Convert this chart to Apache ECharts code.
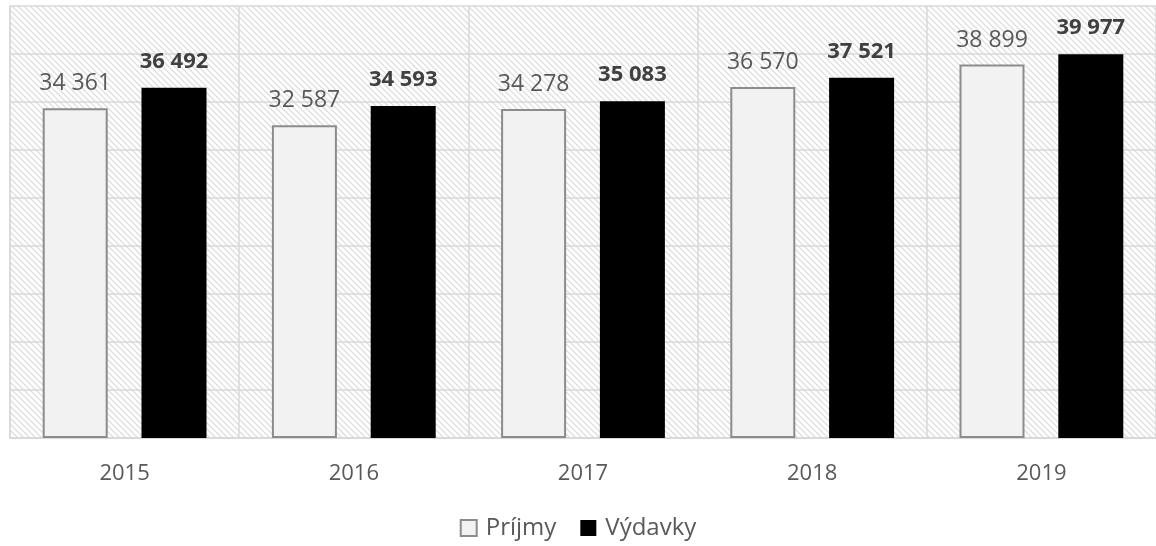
<!DOCTYPE html>
<html>
<head>
<meta charset="utf-8">
<script src="https://cdn.jsdelivr.net/npm/echarts@6/dist/echarts.min.js"></script>
<style>
    html, body { margin: 0; padding: 0; background: #fff; }
    #chart { width: 1156px; height: 546px; }
</style>
</head>
<body>
<div id="chart"></div>
<script>
// Data
var years = ['2015', '2016', '2017', '2018', '2019'];
var prijmy = [34361, 32587, 34278, 36570, 38899];
var vydavky = [36492, 34593, 35083, 37521, 39977];

// Format numbers with a space as thousands separator
function fmt(v) {
    return String(v).replace(/\B(?=(\d{3})+(?!\d))/g, ' ');
}

// Diagonal hatch used as plot background
function hatch() {
    var c = document.createElement('canvas');
    c.width = 6;
    c.height = 6;
    var ctx = c.getContext('2d');
    ctx.fillStyle = '#ffffff';
    ctx.fillRect(0, 0, 6, 6);
    ctx.strokeStyle = '#dedede';
    ctx.lineWidth = 1.3;
    ctx.beginPath();
    ctx.moveTo(-1, -1); ctx.lineTo(7, 7);
    ctx.moveTo(-1, 5); ctx.lineTo(1, 7);
    ctx.moveTo(5, -1); ctx.lineTo(7, 1);
    ctx.stroke();
    return c;
}

var font = '"Open Sans", "Noto Sans", sans-serif';

var option = {
    animation: false,
    grid: {
        show: true,
        left: 10,
        right: -6,
        top: 6,
        bottom: 108,
        borderWidth: 0,
        backgroundColor: { image: hatch(), repeat: 'repeat' }
    },
    legend: {
        bottom: 1,
        left: 'center',
        icon: 'rect',
        itemWidth: 16,
        itemHeight: 16,
        itemGap: 24,
        textStyle: { fontFamily: font, fontSize: 24, color: '#595959', padding: [0, 0, 0, 4] },
        data: ['Príjmy', 'Výdavky']
    },
    xAxis: {
        type: 'category',
        data: years,
        axisLine: { show: true, lineStyle: { color: '#d9d9d9', width: 2 } },
        axisTick: { show: false },
        splitLine: { show: true, lineStyle: { color: '#d9d9d9', width: 1.5 } },
        axisLabel: { fontFamily: font, fontSize: 22, color: '#595959', margin: 25 }
    },
    yAxis: {
        type: 'value',
        min: 0,
        max: 45000,
        interval: 5000,
        axisLabel: { show: false },
        axisLine: { show: true, lineStyle: { color: '#d9d9d9', width: 1.5 } },
        axisTick: { show: false },
        splitLine: { show: true, lineStyle: { color: '#d9d9d9', width: 1.5 } }
    },
    series: [
        {
            name: 'Príjmy',
            type: 'bar',
            data: prijmy,
            barWidth: 65,
            barGap: '52%',
            itemStyle: { color: '#f2f2f2', borderColor: '#8c8c8c', borderWidth: 2 },
            label: {
                show: true,
                position: 'top',
                distance: 13,
                fontFamily: font,
                fontSize: 23,
                color: '#595959',
                formatter: function (p) { return fmt(p.value); }
            }
        },
        {
            name: 'Výdavky',
            type: 'bar',
            data: vydavky,
            barWidth: 65,
            itemStyle: { color: '#000000' },
            label: {
                show: true,
                position: 'top',
                distance: 15,
                fontFamily: font,
                fontSize: 22,
                fontWeight: 'bold',
                color: '#404040',
                formatter: function (p) { return fmt(p.value); }
            }
        }
    ]
};

var chart = echarts.init(document.getElementById('chart'));
chart.setOption(option);
</script>
</body>
</html>
